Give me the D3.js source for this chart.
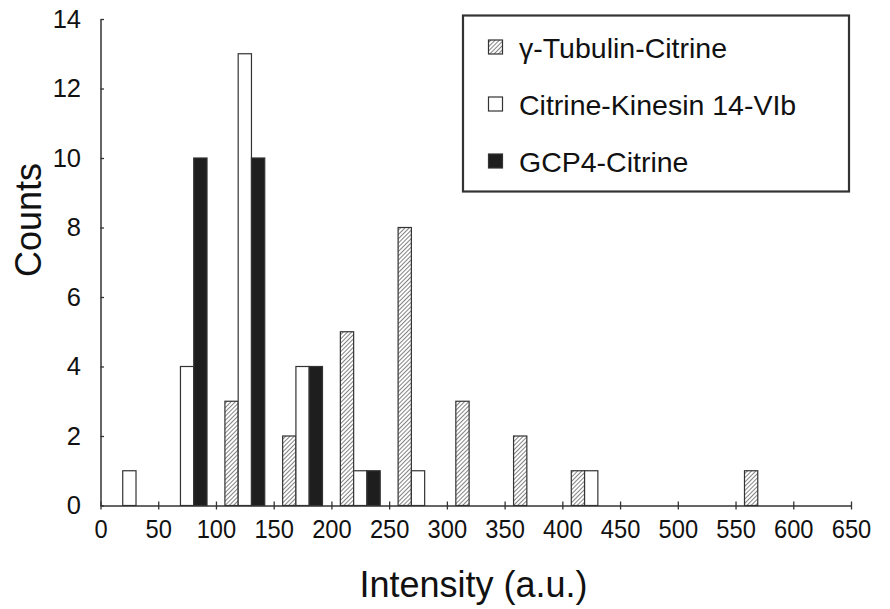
<!DOCTYPE html>
<html>
<head>
<meta charset="utf-8">
<script src="https://cdn.jsdelivr.net/npm/d3@7"></script>
<style>
  body { margin: 0; background: #fff; }
  text { font-family: "Liberation Sans", Arial, Helvetica, sans-serif; fill: #111; }
</style>
</head>
<body>
<div id="chart"></div>
<script>
// bin centers of the intensity histogram
const bins = [25, 75, 125, 175, 225, 275, 325, 375, 425, 475, 525, 575, 625];
const tubulin = [0, 0, 3, 2, 5, 8, 3, 2, 1, 0, 0, 1, 0];
const kinesin = [1, 4, 13, 4, 1, 1, 0, 0, 1, 0, 0, 0, 0];
const gcp4 = [0, 10, 10, 4, 1, 0, 0, 0, 0, 0, 0, 0, 0];
const seriesNames = ["γ-Tubulin-Citrine", "Citrine-Kinesin 14-VIb", "GCP4-Citrine"];
const xTicks = d3.range(0, 651, 50);
const yTicks = [0, 2, 4, 6, 8, 10, 12, 14];

const width = 890, height = 609;
const dark = "#333";

let svg = d3.select("#chart").append("svg")
	.attr("width", width)
	.attr("height", height);

// hatch pattern for the tubulin series
let defs = svg.append("defs");
let pat = defs.append("pattern")
	.attr("id", "hatch")
	.attr("patternUnits", "userSpaceOnUse")
	.attr("width", 3)
	.attr("height", 3)
	.attr("patternTransform", "rotate(45)");
pat.append("rect").attr("width", 3).attr("height", 3).attr("fill", "#fff");
pat.append("line")
	.attr("x1", 0).attr("y1", 0).attr("x2", 0).attr("y2", 3)
	.attr("stroke", "#5a5a5a").attr("stroke-width", 1.5);

let x = d3.scaleLinear().domain([0, 650]).range([100.5, 851]);
let y = d3.scaleLinear().domain([0, 14]).range([505.5, 19]);

let series = [
	{name: seriesNames[0], values: tubulin, fill: "url(#hatch)"},
	{name: seriesNames[1], values: kinesin, fill: "#fff"},
	{name: seriesNames[2], values: gcp4, fill: "#1e1e1e"}
];

// bars inside each 50-wide bin
let groupSpan = 34.5;
let xs = d3.scaleBand().domain(seriesNames).range([0, x(groupSpan) - x(0)]);

let rows = [];
series.forEach(function(s) {
	s.values.forEach(function(v, i) {
		if (v > 0) rows.push({name: s.name, fill: s.fill, bin: bins[i], value: v});
	});
});

svg.append("g").selectAll("rect").data(rows).enter()
	.append("rect")
	.attr("x", function(d) {return x(d.bin - groupSpan / 2) + xs(d.name)})
	.attr("y", function(d) {return y(d.value)})
	.attr("width", xs.bandwidth())
	.attr("height", function(d) {return y(0) - y(d.value)})
	.attr("fill", function(d) {return d.fill})
	.attr("stroke", dark)
	.attr("stroke-width", 1.2);

// X axis
let xAxis = svg.append("g")
	.attr("transform", "translate(0," + y(0) + ")")
	.call(d3.axisBottom(x).tickValues(xTicks).tickSize(4).tickPadding(14).tickSizeOuter(0));
xAxis.selectAll(".tick line").attr("y1", -4).attr("stroke", dark).attr("stroke-width", 1.3);
xAxis.select(".domain").attr("stroke", dark).attr("stroke-width", 1.5);
xAxis.selectAll("text")
	.style("font-size", "25.5px")
	.attr("transform", "scale(0.93,1)")
	.attr("dy", "0.71em")
	.attr("y", 14);

// Y axis
let yAxis = svg.append("g")
	.attr("transform", "translate(" + x(0) + ",0)")
	.call(d3.axisLeft(y).tickValues(yTicks).tickSize(3.5).tickPadding(16).tickSizeOuter(0));
yAxis.selectAll(".tick line").attr("x2", 3.5).attr("stroke", dark).attr("stroke-width", 1.3);
yAxis.select(".domain").attr("stroke", dark).attr("stroke-width", 1.5);
yAxis.selectAll("text").style("font-size", "25.5px");

// axis titles
svg.append("text")
	.attr("x", 473.5)
	.attr("y", 597)
	.style("text-anchor", "middle")
	.style("font-size", "36px")
	.text("Intensity (a.u.)");

svg.append("text")
	.attr("transform", "translate(41,220)rotate(-90)")
	.style("text-anchor", "middle")
	.style("font-size", "36px")
	.text("Counts");

// legend
let legend = svg.append("g");
legend.append("rect")
	.attr("x", 463).attr("y", 15.5)
	.attr("width", 386).attr("height", 176)
	.attr("fill", "#fff")
	.attr("stroke", dark)
	.attr("stroke-width", 2.2);

let legendRows = [58, 115, 172];
series.forEach(function(s, i) {
	legend.append("rect")
		.attr("x", 488.5).attr("y", legendRows[i] - 18)
		.attr("width", 14).attr("height", 14)
		.attr("fill", s.fill)
		.attr("stroke", dark)
		.attr("stroke-width", 1.2);
	legend.append("text")
		.attr("x", 519)
		.attr("y", legendRows[i])
		.style("font-size", "28.5px")
		.text(s.name);
});
</script>
</body>
</html>
